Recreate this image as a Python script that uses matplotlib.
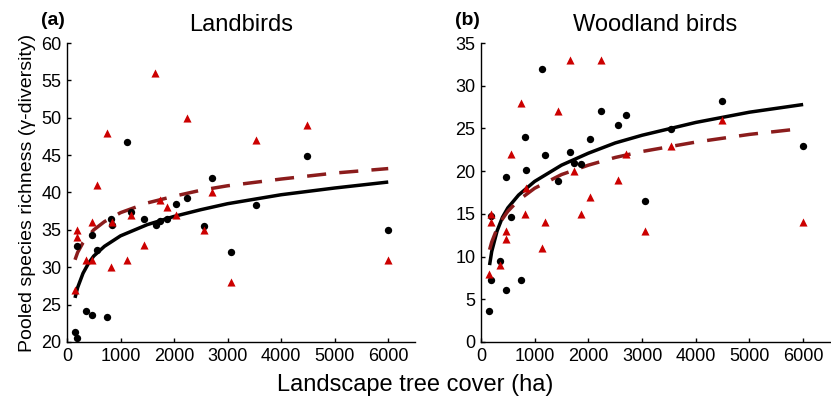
import matplotlib
matplotlib.use("Agg")
import matplotlib.pyplot as plt

plt.rcParams['font.family'] = ['Liberation Sans', 'DejaVu Sans']

# landscape tree cover (ha) for each landscape
x_circ = [150, 180, 193, 354, 466, 466, 553, 745, 814, 845, 1130, 1187,
          1435, 1658, 1733, 1870, 2031, 2236, 2558, 2702, 3056, 3534, 4484, 6000]
x_tri = [150, 193, 193, 354, 466, 466, 553, 745, 814, 845, 1130, 1187,
         1435, 1652, 1733, 1870, 2031, 2236, 2558, 2702, 3056, 3534, 4484, 6000]

land_circ = [21.4, 20.5, 32.9, 24.2, 23.6, 34.3, 32.3, 23.3, 36.5, 35.6, 46.7, 37.4,
             36.5, 35.6, 36.2, 36.5, 38.5, 39.3, 35.5, 41.9, 32.1, 38.3, 44.9, 35.0]
land_tri = [27, 35, 34, 31, 31, 36, 41, 48, 30, 36, 31, 37,
            33, 56, 39, 38, 37, 50, 35, 40, 28, 47, 49, 31]

wood_circ = [3.6, 7.2, 14.8, 9.5, 6.1, 19.3, 14.6, 7.3, 24.0, 20.1, 31.9, 21.9,
             18.8, 22.2, 20.9, 20.8, 23.8, 27.0, 25.4, 26.6, 16.5, 24.9, 28.2, 22.9]
wood_tri = [8, 15, 14, 9, 13, 12, 22, 28, 15, 18, 11, 14,
            27, 33, 20, 15, 17, 33, 19, 22, 13, 23, 26, 14]

# fitted curves
land_fit_x = [150, 200, 300, 400, 500, 700, 1000, 1500, 2000, 2500, 3000, 4000, 5000, 6000]
land_fit_solid = [25.9, 27.3, 29.2, 30.5, 31.5, 32.8, 34.2, 35.7, 36.8, 37.7, 38.5, 39.7, 40.6, 41.4]
land_fit_dash = [31.0, 32.0, 33.3, 34.2, 35.0, 36.1, 37.3, 38.6, 39.5, 40.3, 40.9, 41.8, 42.6, 43.2]

wood_fit_x = [160, 200, 300, 400, 500, 700, 1000, 1500, 2000, 2500, 3000, 4000, 5000, 6000]
wood_fit_solid = [9.0, 10.6, 13.0, 14.6, 15.7, 17.2, 18.8, 20.7, 22.1, 23.3, 24.2, 25.7, 26.9, 27.8]
wood_fit_dash = [10.8, 11.7, 13.3, 14.4, 15.3, 16.6, 18.0, 19.6, 20.7, 21.6, 22.3, 23.4, 24.3, 25.0]

RED = '#cc0000'
DARKRED = '#8b1c1c'

fig = plt.figure(figsize=(8.31, 4.03), dpi=100)
ax1 = fig.add_axes([0.0806, 0.1514, 0.4188, 0.7419])
ax2 = fig.add_axes([0.5788, 0.1514, 0.4200, 0.7419])


def draw(ax, circ, tri, fx, solid, dash, ylim, yticks, title, tag):
    ax.plot(fx, solid, color='black', lw=2.5, zorder=2, solid_capstyle='butt')
    ax.plot(fx, dash, color=DARKRED, lw=2.5, dashes=(5.5, 3.8), zorder=2)
    ax.scatter(x_circ, circ, s=28, color='black', zorder=3, linewidths=0)
    ax.scatter(x_tri, tri, s=34, marker='^', color=RED, zorder=4, linewidths=0)
    ax.set_xlim(0, 6500)
    ax.set_ylim(*ylim)
    ax.set_yticks(yticks)
    ax.set_xticks([0, 1000, 2000, 3000, 4000, 5000, 6000])
    for s in ['top', 'right']:
        ax.spines[s].set_visible(False)
    for s in ['left', 'bottom']:
        ax.spines[s].set_linewidth(1.0)
    ax.tick_params(direction='in', length=3, width=1, labelsize=13, pad=4)
    ax.set_title(title, fontsize=17, pad=9)
    ax.text(-0.075, 1.075, tag, transform=ax.transAxes, fontsize=14,
            fontweight='bold', va='center', ha='left')


draw(ax1, land_circ, land_tri, land_fit_x, land_fit_solid, land_fit_dash,
     (20, 60), range(20, 61, 5), 'Landbirds', '(a)')
draw(ax2, wood_circ, wood_tri, wood_fit_x, wood_fit_solid, wood_fit_dash,
     (0, 35), range(0, 36, 5), 'Woodland birds', '(b)')

ax1.set_ylabel('Pooled species richness (γ-diversity)', fontsize=14, labelpad=4)
fig.text(0.5, 0.045, 'Landscape tree cover (ha)', fontsize=17, ha='center', va='center')

fig.savefig('out.png', dpi=100)
